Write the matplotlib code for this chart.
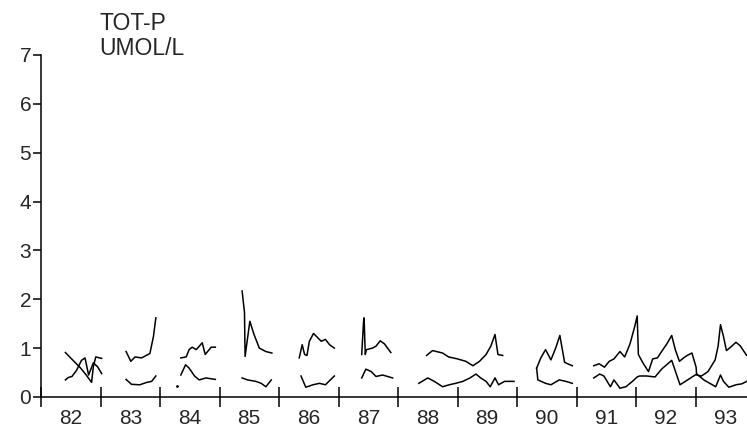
import numpy as np
import matplotlib
matplotlib.use("Agg")
import matplotlib.pyplot as plt

nan = np.nan

# ====================== DATA ======================
# decimal year (82.5 = mid 1982), nan breaks the line between sampling seasons
upper_x = [82.41, 82.53, 82.66, 82.76, 82.85, 82.88, 82.92, 83.02, nan,
           83.43, 83.51, 83.58, 83.69, 83.83, 83.89, 83.93, nan,
           84.35, 84.44, 84.49, 84.54, 84.61, 84.71, 84.76, 84.86, 84.93, nan,
           85.38, 85.42, 85.43, 85.51, 85.58, 85.67, 85.78, 85.88, nan,
           86.34, 86.39, 86.43, 86.47, 86.51, 86.58, 86.63, 86.71, 86.78, 86.85, 86.93, nan,
           87.39, 87.42, 87.43, 87.45, 87.47, 87.57, 87.63, 87.70, 87.77, 87.88, nan,
           88.48, 88.58, 88.75, 88.85, 89.00, 89.14, 89.26, 89.37, 89.48, 89.56, 89.63,
           89.68, 89.76, nan,
           90.33, 90.40, 90.48, 90.57, 90.65, 90.72, 90.80, 90.87, 90.93, nan,
           91.29, 91.38, 91.47, 91.55, 91.63, 91.73, 91.81, 91.90, 91.98, 92.02, 92.04,
           92.12, 92.21, 92.28, 92.36, 92.43, 92.52, 92.60, 92.66, 92.73, 92.80, 92.86,
           92.94, 93.01, 93.02, 93.10, 93.21, 93.33, 93.38, 93.42, 93.47, 93.52, 93.59,
           93.68, 93.75, 93.86]
upper_y = [0.91, 0.76, 0.60, 0.45, 0.30, 0.62, 0.82, 0.79, nan,
           0.93, 0.73, 0.82, 0.80, 0.89, 1.24, 1.62, nan,
           0.80, 0.82, 0.97, 1.02, 0.97, 1.11, 0.87, 1.02, 1.02, nan,
           2.17, 1.73, 0.83, 1.55, 1.28, 1.00, 0.93, 0.90, nan,
           0.80, 1.07, 0.87, 0.85, 1.14, 1.30, 1.24, 1.14, 1.18, 1.07, 1.00, nan,
           0.87, 1.52, 1.62, 0.87, 0.97, 1.00, 1.04, 1.15, 1.09, 0.91, nan,
           0.85, 0.95, 0.90, 0.82, 0.78, 0.73, 0.64, 0.73, 0.87, 1.04, 1.28,
           0.87, 0.85, nan,
           0.59, 0.80, 0.97, 0.76, 1.00, 1.26, 0.71, 0.67, 0.64, nan,
           0.64, 0.68, 0.61, 0.73, 0.78, 0.93, 0.82, 1.09, 1.45, 1.66, 0.87,
           0.69, 0.52, 0.78, 0.80, 0.93, 1.09, 1.26, 0.97, 0.73, 0.80, 0.85,
           0.90, 0.61, 0.45, 0.43, 0.52, 0.76, 1.04, 1.48, 1.24, 0.95, 1.02,
           1.12, 1.05, 0.85]

lower_x = [82.41, 82.46, 82.52, 82.60, 82.68, 82.74, 82.80, 82.88, 82.95, 83.02, nan,
           83.43, 83.52, 83.66, 83.78, 83.86, 83.93, nan,
           84.35, 84.43, 84.49, 84.58, 84.66, 84.77, 84.93, nan,
           85.38, 85.47, 85.61, 85.70, 85.78, 85.87, nan,
           86.37, 86.45, 86.57, 86.68, 86.78, 86.93, nan,
           87.39, 87.46, 87.55, 87.63, 87.74, 87.91, nan,
           88.35, 88.50, 88.61, 88.75, 88.86, 88.97, 89.09, 89.21, 89.31, 89.39, 89.48,
           89.55, 89.63, 89.69, 89.79, 89.95, nan,
           90.33, 90.35, 90.48, 90.57, 90.71, 90.82, 90.93, nan,
           91.29, 91.39, 91.46, 91.57, 91.63, 91.73, 91.83, 91.94, 92.02, 92.06, 92.18,
           92.32, 92.43, 92.60, 92.74, 92.88, 93.02, 93.14, 93.24, 93.34, 93.42, 93.47,
           93.56, 93.68, 93.78, 93.86]
lower_y = [0.35, 0.40, 0.42, 0.55, 0.75, 0.80, 0.45, 0.70, 0.62, 0.48, nan,
           0.36, 0.26, 0.25, 0.30, 0.32, 0.43, nan,
           0.45, 0.66, 0.59, 0.43, 0.35, 0.39, 0.36, nan,
           0.39, 0.35, 0.32, 0.28, 0.21, 0.35, nan,
           0.43, 0.20, 0.25, 0.28, 0.25, 0.43, nan,
           0.39, 0.57, 0.52, 0.42, 0.45, 0.39, nan,
           0.28, 0.39, 0.32, 0.21, 0.25, 0.28, 0.32, 0.39, 0.47, 0.39, 0.32,
           0.21, 0.39, 0.25, 0.32, 0.32, nan,
           0.59, 0.35, 0.28, 0.25, 0.35, 0.32, 0.28, nan,
           0.39, 0.47, 0.43, 0.21, 0.35, 0.18, 0.21, 0.32, 0.41, 0.43, 0.43,
           0.41, 0.57, 0.75, 0.25, 0.36, 0.47, 0.35, 0.28, 0.21, 0.45, 0.32,
           0.20, 0.25, 0.27, 0.32]

# single isolated sample in 1984
single_x = [84.28]
single_y = [0.23]

years = list(range(82, 94))
year_labels = [str(y) for y in years]
y_ticks = list(range(0, 8))

# ====================== PLOT ======================
plt.rcParams['font.family'] = ['Liberation Sans', 'DejaVu Sans']
text_color = '#262626'

fig = plt.figure(figsize=(7.47, 4.30), dpi=100)
ax = fig.add_axes([41 / 747, 33 / 430, 706 / 747, 342 / 430])

ax.plot(upper_x, upper_y, color='black', linewidth=1.1)
ax.plot(lower_x, lower_y, color='black', linewidth=1.1)
ax.plot(single_x, single_y, 'o', color='black', markersize=1.0)

ax.set_xlim(82, 82 + 706 / 59.5)
ax.set_ylim(0, 7)

for side in ['top', 'right']:
    ax.spines[side].set_visible(False)
for side in ['left', 'bottom']:
    ax.spines[side].set_linewidth(1.1)

# year boundaries as major ticks, year names centred between them
ax.set_xticks(years)
ax.set_xticklabels([])
ax.set_xticks([y + 0.5 for y in years], minor=True)
ax.set_xticklabels(year_labels, minor=True, fontsize=15, color=text_color)
ax.tick_params(axis='x', which='major', direction='inout', length=14, width=1.1)
ax.tick_params(axis='x', which='minor', length=0, pad=9)

ax.set_yticks(y_ticks)
ax.set_yticklabels([str(v) for v in y_ticks], fontsize=15, color=text_color)
ax.tick_params(axis='y', direction='out', length=6, width=1.1, pad=1)

fig.text(100 / 747, 1 - 30 / 430, 'TOT-P', fontsize=16.5, color=text_color)
fig.text(99 / 747, 1 - 55 / 430, 'UMOL/L', fontsize=16.5, color=text_color)

fig.savefig('out.png', dpi=100)
